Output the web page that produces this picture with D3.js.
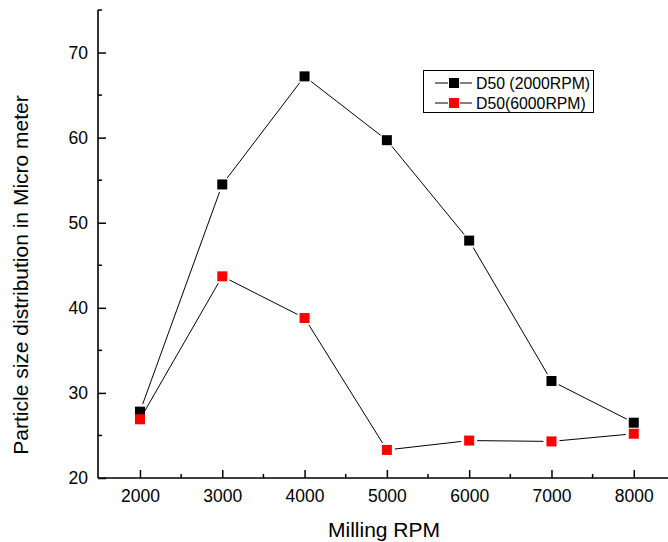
<!DOCTYPE html>
<html>
<head>
<meta charset="utf-8">
<script src="https://cdn.jsdelivr.net/npm/d3@7"></script>
<style>
  body { margin: 0; background: #fff; }
  svg { display: block; font-family: Arial, "Liberation Sans", sans-serif; }
</style>
</head>
<body>
<div class="chart"></div>
<script>
const width = 668;
const height = 542;

// data
const rpm = [2000, 3000, 4000, 5000, 6000, 7000, 8000];
const d50_2000 = [27.8, 54.5, 67.2, 59.7, 47.9, 31.4, 26.5];
const d50_6000 = [26.9, 43.7, 38.8, 23.3, 24.4, 24.3, 25.2];
const seriesNames = ['D50 (2000RPM)', 'D50(6000RPM)'];
const seriesColors = ['#000000', '#ff0000'];
const xTicks = [2000, 3000, 4000, 5000, 6000, 7000, 8000];
const yTicks = [20, 30, 40, 50, 60, 70];

const plotLeft = 98, plotTop = 10, plotBottom = 478;

const x = d3.scaleLinear().domain([1490, 8500]).range([plotLeft, plotLeft + 7010 * 0.0823]);
const y = d3.scaleLinear().domain([20, 75]).range([plotBottom, plotTop]);

const svg = d3.select('.chart')
  .append('svg')
  .attr('width', width)
  .attr('height', height)

// axes - ticks point inward
const xAxis = d3.axisBottom(x).tickValues(xTicks).tickSize(0).tickPadding(12).tickFormat(d3.format('d'))
const gx = svg.append('g').attr('transform', 'translate(0,' + plotBottom + ')').call(xAxis)
gx.select('.domain').attr('stroke-width', 1.6).attr('d', 'M' + plotLeft + ',0H' + width)
gx.selectAll('text').attr('font-size', 17.5).attr('fill', '#000').attr('font-family', 'Arial, Liberation Sans, sans-serif')
gx.selectAll('.tick').append('line').attr('y2', -8).attr('stroke', '#000').attr('stroke-width', 1.5)
d3.range(2500, 8500, 1000).forEach(v => {
  gx.append('line').attr('x1', x(v)).attr('x2', x(v)).attr('y1', 0).attr('y2', -4).attr('stroke', '#000').attr('stroke-width', 1.5)
})

const yAxis = d3.axisLeft(y).tickValues(yTicks).tickSize(0).tickPadding(10)
const gy = svg.append('g').attr('transform', 'translate(' + plotLeft + ',0)').call(yAxis)
gy.select('.domain').attr('stroke-width', 1.6).attr('d', 'M0,' + plotTop + 'V' + plotBottom)
gy.selectAll('text').attr('font-size', 17.5).attr('fill', '#000').attr('font-family', 'Arial, Liberation Sans, sans-serif')
gy.selectAll('.tick').append('line').attr('x2', 8).attr('stroke', '#000').attr('stroke-width', 1.5)
d3.range(25, 80, 10).forEach(v => {
  gy.append('line').attr('x1', 0).attr('x2', 4).attr('y1', y(v)).attr('y2', y(v)).attr('stroke', '#000').attr('stroke-width', 1.5)
})

// axis titles
svg.append('text')
  .attr('x', 384).attr('y', 537)
  .attr('text-anchor', 'middle')
  .attr('font-size', 21)
  .text('Milling RPM')

svg.append('text')
  .attr('transform', 'translate(28,275) rotate(-90)')
  .attr('text-anchor', 'middle')
  .attr('font-size', 21)
  .text('Particle size distribution in Micro meter')

// lines with small gaps around markers, like Origin draws them
const gap = 8;
function drawSeries(vals, color) {
  const pts = rpm.map((r, i) => [x(r), y(vals[i])])
  for (let i = 0; i < pts.length - 1; i++) {
    const [x1, y1] = pts[i], [x2, y2] = pts[i + 1]
    const len = Math.hypot(x2 - x1, y2 - y1)
    const ux = (x2 - x1) / len, uy = (y2 - y1) / len
    svg.append('line')
      .attr('x1', x1 + ux * gap).attr('y1', y1 + uy * gap)
      .attr('x2', x2 - ux * gap).attr('y2', y2 - uy * gap)
      .attr('stroke', '#000')
      .attr('stroke-width', 1)
  }
  svg.selectAll(null)
    .data(pts)
    .enter()
    .append('rect')
    .attr('x', d => d[0] - 5)
    .attr('y', d => d[1] - 5)
    .attr('width', 10)
    .attr('height', 10)
    .attr('fill', color)
}
drawSeries(d50_2000, seriesColors[0])
drawSeries(d50_6000, seriesColors[1])

// legend
const lg = svg.append('g')
lg.append('rect')
  .attr('x', 423.5).attr('y', 70.5).attr('width', 170).attr('height', 42)
  .attr('fill', '#fff').attr('stroke', '#000').attr('stroke-width', 1)
seriesNames.forEach((name, i) => {
  const ly = 83 + i * 20
  lg.append('line').attr('x1', 435).attr('x2', 448).attr('y1', ly).attr('y2', ly).attr('stroke', '#000')
  lg.append('line').attr('x1', 460).attr('x2', 472).attr('y1', ly).attr('y2', ly).attr('stroke', '#000')
  lg.append('rect').attr('x', 449).attr('y', ly - 5).attr('width', 10).attr('height', 10).attr('fill', seriesColors[i])
  lg.append('text').attr('x', 476).attr('y', ly + 5.5).attr('font-size', 15.8).text(name)
})
</script>
</body>
</html>
